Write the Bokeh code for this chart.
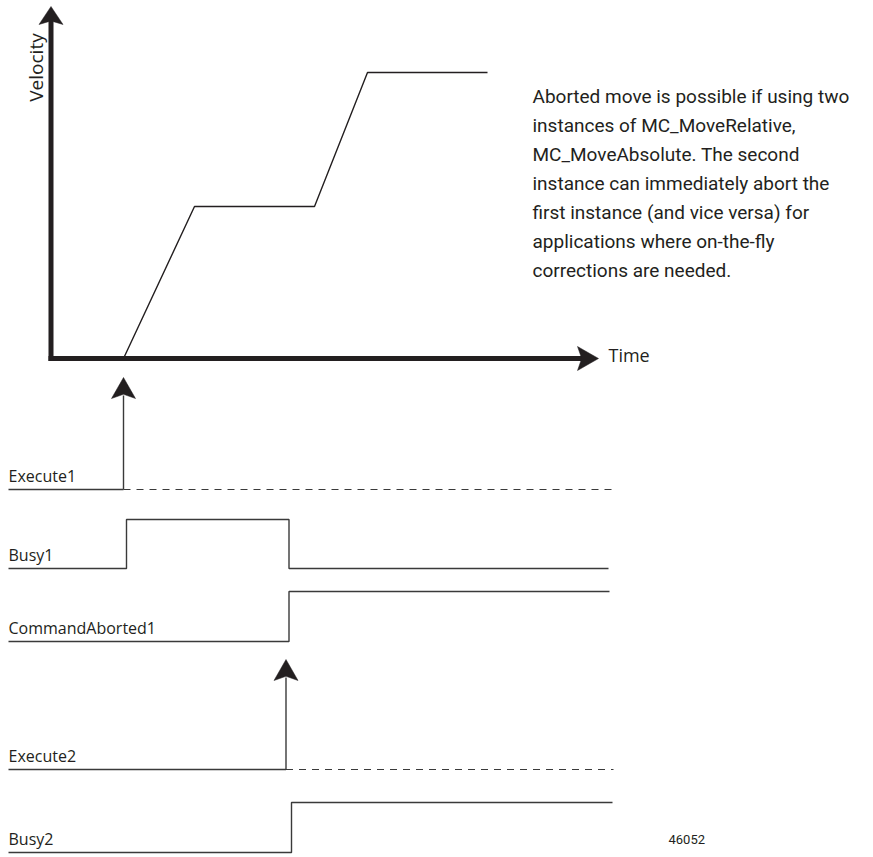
import numpy as np
from bokeh.plotting import figure
from bokeh.models import Range1d
from bokeh.core.properties import value
from bokeh.embed import file_html
from bokeh.resources import INLINE

# ---------------- data ----------------
# velocity profile: time (from origin) vs velocity
vel_time = [72.5, 143.5, 263.5, 316.5, 436.5]
vel_value = [0, 152, 152, 286, 286]

time_axis_end = 547.5
velocity_axis_end = 352

# timing signals (rows): low level and high level / arrow tip level
signal_names = ["Execute1", "Busy1", "CommandAborted1", "Execute2", "Busy2"]
signal_low = [-131, -210, -283, -411, -494]
signal_high = [-19, -161, -233, -301, -444]
trace_start = -42.5
trace_end = [561.5, 557.5, 558.5, 562.5, 561.5]

execute1_t = 72.5
busy1_rise, busy1_fall = 75.5, 238.0
aborted1_rise = 238.0
execute2_t = 235.0
busy2_rise = 240.5

note_lines = [
    "Aborted move is possible if using two",
    "instances of MC_MoveRelative,",
    "MC_MoveAbsolute. The second",
    "instance can immediately abort the",
    "first instance (and vice versa) for",
    "applications where on-the-fly",
    "corrections are needed.",
]
figure_id = "46052"

# ---------------- styles ----------------
INK = "#231f20"
WIRE = "#3a3a3a"
LABEL_FONT = value("Open Sans")
NOTE_FONT = value("Roboto")
BASE_FIX = 0.39   # baseline correction (fraction of font size), Open Sans
NOTE_FIX = 0.34   # baseline correction, Roboto

p = figure(width=873, height=857, output_backend="svg", toolbar_location=None,
           x_range=Range1d(-50.5, 822.5), y_range=Range1d(-499, 358),
           min_border=0, x_axis_type=None, y_axis_type=None)
p.grid.visible = False
p.outline_line_color = None
p.background_fill_color = "white"
p.border_fill_color = "white"


def arrowhead(tx, ty, dx, dy, length, width, notch=0.8):
    px, py = -dy, dx
    bx, by = tx - dx * length, ty - dy * length
    xs = [tx, bx + px * width / 2, tx - dx * length * notch, bx - px * width / 2]
    ys = [ty, by + py * width / 2, ty - dy * length * notch, by - py * width / 2]
    p.patch(xs, ys, fill_color=INK, line_color=INK, line_width=0.5)


# main axes
p.line([-2.5, time_axis_end - 15], [0, 0], line_width=5, color=INK)
arrowhead(time_axis_end, 0, 1, 0, 21, 24)
p.line([0, 0], [-2.5, velocity_axis_end - 12], line_width=5, color=INK)
arrowhead(0, velocity_axis_end, 0, 1, 18, 24)

p.text([-7.8 - BASE_FIX * 19], [291], text=["Velocity"], angle=np.pi / 2,
       text_align="center", text_baseline="alphabetic", text_font=LABEL_FONT,
       text_font_size="19px", text_color=INK)
p.text([time_axis_end + 10], [-4 + BASE_FIX * 18], text=["Time"], text_align="left",
       text_baseline="alphabetic", text_font=LABEL_FONT, text_font_size="18px",
       text_color=INK)

# velocity profile
p.line(vel_time, vel_value, line_width=1.4, color=INK)

# note text
note_y = [256 + NOTE_FIX * 19 - 29.1 * i for i in range(len(note_lines))]
p.text([481.5] * len(note_lines), note_y, text=note_lines, text_align="left",
       text_baseline="alphabetic", text_font=NOTE_FONT, text_font_size="19px",
       text_color=INK)

# timing rows
for name, low, high, end in zip(signal_names, signal_low, signal_high, trace_end):
    if name.startswith("Execute"):
        t = execute1_t if name == "Execute1" else execute2_t
        p.line([trace_start, t], [low, low], line_width=1.4, color=WIRE)
        p.line([t, t], [low, high - 18], line_width=1.4, color=WIRE)
        p.line([t, end], [low, low], line_width=1.2, color=WIRE, line_dash="7 6")
        arrowhead(t, high, 0, 1, 21, 24)
    elif name == "Busy1":
        p.line([trace_start, busy1_rise, busy1_rise, busy1_fall, busy1_fall, end],
               [low, low, high, high, low, low], line_width=1.4, color=WIRE)
    else:
        rise = aborted1_rise if name == "CommandAborted1" else busy2_rise
        p.line([trace_start, rise, rise, end], [low, low, high, high],
               line_width=1.4, color=WIRE)

p.text([trace_start] * len(signal_names), [v + 7 + BASE_FIX * 16 for v in signal_low],
       text=signal_names, text_align="left", text_baseline="alphabetic",
       text_font=LABEL_FONT, text_font_size="16px", text_color=INK)

p.text([617.5], [-485 + NOTE_FIX * 13], text=[figure_id], text_align="left",
       text_baseline="alphabetic", text_font=NOTE_FONT, text_font_size="13px",
       text_color=INK)

open("out.html", "w").write(file_html(p, INLINE))
